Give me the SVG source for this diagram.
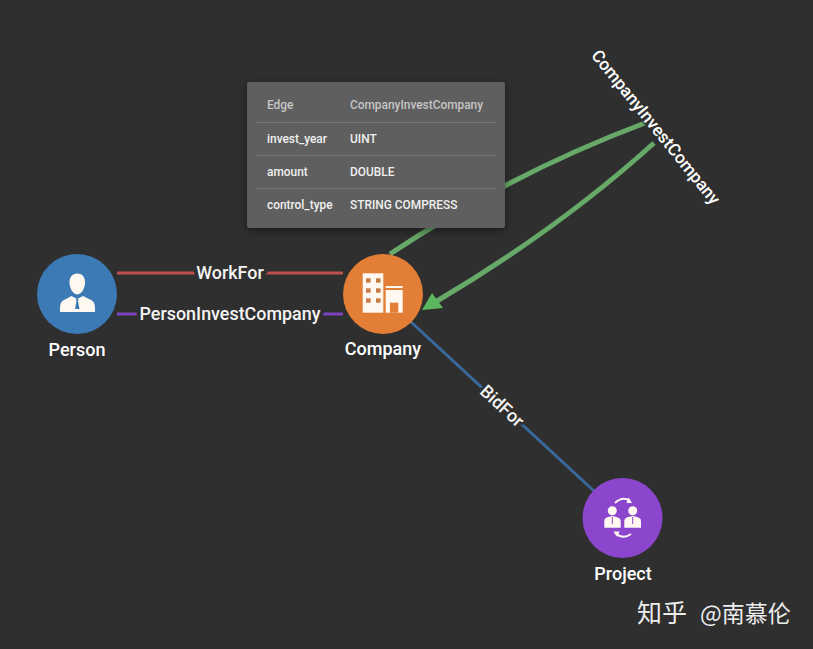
<svg xmlns="http://www.w3.org/2000/svg" width="813" height="649" viewBox="0 0 813 649">
<style>
text{font-family:Roboto,"Liberation Sans",sans-serif;font-weight:500}
.lbl{fill:#fff;font-size:18px;text-anchor:middle}
.elbl{fill:#f4f4f4;font-size:17.900px;text-anchor:middle;paint-order:stroke;stroke:#2f2f2f;stroke-width:8px;stroke-linejoin:round}
.tip{font-size:11.900px;fill:#f0f0f0}
.tiph{font-size:11.900px;fill:#c6c6c6}
.rule{stroke:#767676;stroke-width:1}
.edge{fill:none;stroke-width:3}
.green{fill:none;stroke:#66a968;stroke-width:5}
.wm{font-family:"Noto Sans CJK SC","Noto Sans",sans-serif;font-weight:400;fill:#ececec}
.ic{fill:#fff8f0}
</style>
<defs>
<filter id="shadow" x="-10%" y="-10%" width="120%" height="125%"><feDropShadow dx="0" dy="3" stdDeviation="5" flood-color="#000" flood-opacity=".45"/></filter>
</defs>
<rect width="813" height="649" fill="#2f2f2f"/>
<g id="connectors">
<path class="edge" stroke="#c0504d" d="M117 273H343"/>
<path class="edge" stroke="#7d43c0" d="M117 314H343"/>
<path class="edge" stroke="#39699b" d="M411 322L594 491"/>
<path class="green" d="M390 254Q510.500 173.500 645 123"/>
<path class="green" d="M654 143Q560 228 437 301"/>
<path d="M422 310L432 293 443 308Z" fill="#5cb760"/>
<text class="elbl" x="230" y="279">WorkFor</text>
<text class="elbl" x="230" y="320">PersonInvestCompany</text>
<text class="elbl" transform="translate(502 406) rotate(42.700)" y="6" style="stroke-width:5px">BidFor</text>
<text transform="translate(656 127) rotate(51)" y="6" style="font-size:17.300px;text-anchor:middle;fill:#fff;paint-order:stroke;stroke:#2f2f2f;stroke-opacity:.6;stroke-width:4px">CompanyInvestCompany</text>
</g>
<g id="person">
<circle cx="77" cy="294" r="40" fill="#3c7ab6"/>
<path class="ic" d="M77.300 273.500C82.500 273.500 85.300 277.500 85 283 84.800 288 82 294 77.300 294.500 72.500 294 69.800 288 69.500 283 69.300 277.500 72 273.500 77.300 273.500Z"/>
<path class="ic" d="M60 312V307Q60 301 66 299L71.500 296 77 299 83 296 89 299Q95 301 95 307V312Z"/>
<path d="M76 299H78.500L78 301 79.500 309H75L76.500 301Z" fill="#3c7ab6"/>
<text class="lbl" x="77" y="356">Person</text>
</g>
<g id="company">
<circle cx="383" cy="294" r="40" fill="#e27e36"/>
<rect class="ic" x="362.700" y="273.300" width="20.600" height="39.400"/>
<g fill="#c77c45"><rect x="366" y="278.300" width="4.600" height="4.400"/><rect x="376" y="278.300" width="4.600" height="4.400"/><rect x="366" y="288.300" width="4.600" height="4.400"/><rect x="376" y="288.300" width="4.600" height="4.400"/><rect x="366" y="298.300" width="4.600" height="4.400"/><rect x="376" y="298.300" width="4.600" height="4.400"/></g>
<rect class="ic" x="385.700" y="286" width="17" height="2"/>
<rect class="ic" x="385.700" y="290" width="17" height="22.700"/>
<rect x="390" y="302.700" width="8.300" height="10" fill="#e27e36"/>
<text class="lbl" x="383" y="355">Company</text>
</g>
<g id="project">
<circle cx="622.500" cy="518" r="40" fill="#8b46cd"/>
<circle cx="612.300" cy="510.700" r="4.500" class="ic"/>
<circle cx="632.700" cy="510.700" r="4.500" class="ic"/>
<path class="ic" d="M604.300 527.700V521Q604.300 518 608 517L612.300 516 616.500 517Q620.700 518 620.700 521V527.700Z"/>
<path class="ic" d="M624.300 527.700V521Q624.300 518 628 517L632.700 516 637 517Q641 518 641 521V527.700Z"/>
<path d="M612.300 517V524M632.700 517V524" stroke="#8b46cd" stroke-width="1"/>
<path d="M615 503Q622 496 630 500.500M615 533Q623 540 631 534" fill="none" stroke="#fff8f0" stroke-width="1.800"/>
<path class="ic" d="M628.500 497.500L632 503 626.500 503ZM617.500 537L613.500 531.500 619.500 531.500Z"/>
<text class="lbl" x="623" y="580">Project</text>
</g>
<g id="tooltip">
<rect x="247" y="82" width="258" height="146" rx="2" fill="#5f5f5f" filter="url(#shadow)"/>
<path class="rule" d="M256 122.500H496M256 155.500H496M256 188.500H496"/>
<text class="tiph" x="267" y="109">Edge</text>
<text class="tiph" x="350" y="109">CompanyInvestCompany</text>
<text class="tip" x="267" y="143">invest_year</text>
<text class="tip" x="350" y="143">UINT</text>
<text class="tip" x="267" y="176">amount</text>
<text class="tip" x="350" y="176">DOUBLE</text>
<text class="tip" x="267" y="209">control_type</text>
<text class="tip" x="350" y="209">STRING COMPRESS</text>
</g>
<text class="wm" x="637" y="622" style="font-size:25px">知乎</text>
<text class="wm" x="700" y="622" style="font-size:23px">@南慕伦</text>
</svg>
